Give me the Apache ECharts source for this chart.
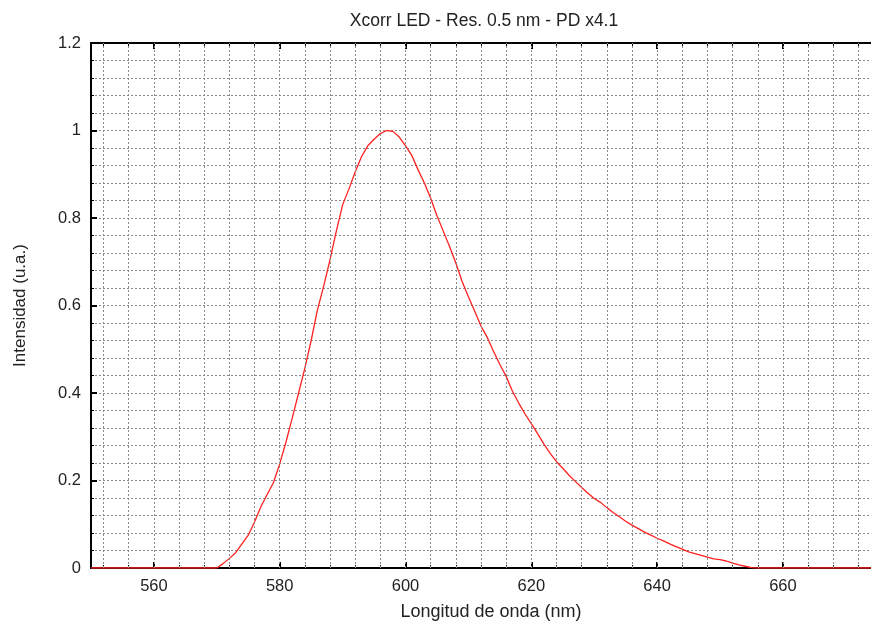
<!DOCTYPE html>
<html>
<head>
<meta charset="utf-8">
<script src="https://cdn.jsdelivr.net/npm/echarts@6/dist/echarts.min.js"></script>
<style>
html,body{margin:0;padding:0;background:#fff;}
#chart{width:871px;height:623px;}
</style>
</head>
<body>
<div id="chart"></div>
<script>
const wavelengths = [550,570,571,572,573,574,575,576,577,578,579,580,581,582,583,584,585,586,587,588,589,590,591,592,593,594,595,596,597,598,599,600,601,602,603,604,605,606,607,608,609,610,611,612,613,614,615,616,617,618,619,620,621,622,623,624,625,626,627,628,629,630,631,632,633,634,635,636,637,638,639,640,641,642,643,644,645,646,647,648,649,650,651,652,653,654,655,656,674];
const intensity = [0,0,0.01,0.022,0.035,0.055,0.075,0.105,0.14,0.168,0.195,0.238,0.288,0.343,0.4,0.457,0.52,0.59,0.645,0.705,0.77,0.83,0.866,0.905,0.94,0.965,0.98,0.993,1.0,0.998,0.985,0.965,0.943,0.91,0.88,0.845,0.805,0.77,0.735,0.697,0.655,0.62,0.587,0.553,0.527,0.495,0.465,0.438,0.404,0.377,0.352,0.33,0.307,0.283,0.262,0.243,0.228,0.212,0.198,0.184,0.171,0.159,0.15,0.138,0.127,0.117,0.107,0.098,0.09,0.082,0.075,0.068,0.062,0.055,0.049,0.043,0.037,0.033,0.029,0.025,0.021,0.019,0.016,0.011,0.007,0.004,0.001,0,0];
const xMajorTicks = [560,580,600,620,640,660];
const xMinorTicks = [552,556,560,564,568,572,576,580,584,588,592,596,600,604,608,612,616,620,624,628,632,636,640,644,648,652,656,660,664,668,672];
const titleText = 'Xcorr LED - Res. 0.5 nm - PD x4.1';
const xName = 'Longitud de onda (nm)';
const yName = 'Intensidad (u.a.)';

const seriesData = wavelengths.map((w, i) => [w, intensity[i]]);
const FONT = 'Liberation Sans, Arial, sans-serif';
const gridStyle = {color: '#8a8a8a', type: [2, 2], width: 1};
const gridLine = {show: true, lineStyle: gridStyle};

const chart = echarts.init(document.getElementById('chart'));
chart.setOption({
  animation: false,
  backgroundColor: '#fff',
  title: {
    text: titleText, left: 479, top: 7, textAlign: 'center',
    textStyle: {fontFamily: FONT, fontSize: 17.5, fontWeight: 'normal', color: '#222'}
  },
  grid: {left: 91, top: 43, right: 0, bottom: 55, containLabel: false, outerBoundsMode: 'none'},
  xAxis: [
    {
      type: 'value', position: 'bottom', min: 550, max: 674,
      name: xName, nameLocation: 'middle', nameGap: 35,
      nameTextStyle: {fontFamily: FONT, fontSize: 18, color: '#222', padding: [0, 0, 0, 20]},
      axisLine: {show: true, onZero: false, lineStyle: {color: '#000', width: 2}},
      axisTick: {show: true, inside: true, length: 6, customValues: xMajorTicks, lineStyle: {color: '#000', width: 2}},
      axisLabel: {show: true, customValues: xMajorTicks, margin: 10, fontFamily: FONT, fontSize: 16.5, color: '#222'},
      splitLine: {show: false}
    },
    {
      type: 'value', position: 'bottom', min: 550, max: 674,
      axisLine: {show: false, onZero: false},
      axisTick: {show: true, inside: true, length: 3, customValues: xMinorTicks, lineStyle: {color: '#000', width: 1}},
      axisLabel: {show: false},
      splitLine: {show: false}
    },
    {
      type: 'value', position: 'top', min: 550, max: 674,
      axisLine: {show: true, onZero: false, lineStyle: {color: '#000', width: 2}},
      axisTick: {show: true, inside: true, length: 6, customValues: xMajorTicks, lineStyle: {color: '#000', width: 2}},
      axisLabel: {show: false},
      splitLine: {show: false}
    },
    {
      type: 'value', position: 'top', min: 550, max: 674,
      axisLine: {show: false, onZero: false},
      axisTick: {show: true, inside: true, length: 3, customValues: xMinorTicks, lineStyle: {color: '#000', width: 1}},
      axisLabel: {show: false},
      splitLine: {show: false}
    }
  ],
  yAxis: {
    type: 'value', min: 0, max: 1.2, interval: 0.2,
    name: yName, nameLocation: 'middle', nameGap: 62,
    nameTextStyle: {fontFamily: FONT, fontSize: 17, color: '#222'},
    axisLine: {show: true, onZero: false, lineStyle: {color: '#000', width: 2}},
    axisTick: {show: true, inside: true, length: 6, lineStyle: {color: '#000', width: 2}},
    minorTick: {show: true, splitNumber: 5, length: 3, lineStyle: {color: '#000', width: 1}},
    axisLabel: {margin: 10, fontFamily: FONT, fontSize: 16.5, color: '#222',
      formatter: v => String(Math.round(v * 10) / 10)},
    splitLine: gridLine,
    minorSplitLine: gridLine
  },
  series: [
    {
      type: 'line', xAxisIndex: 0, data: seriesData, showSymbol: false, silent: true, z: 1,
      lineStyle: {opacity: 0},
      markLine: {
        silent: true, symbol: ['none', 'none'], label: {show: false}, animation: false,
        lineStyle: gridStyle,
        emphasis: {disabled: true},
        data: xMinorTicks.map(v => ({xAxis: v}))
      }
    },
    {
      type: 'line', xAxisIndex: 0, data: seriesData, showSymbol: false, z: 3,
      lineStyle: {color: '#ff2020', width: 1.3}, clip: true
    }
  ]
});
</script>
</body>
</html>
